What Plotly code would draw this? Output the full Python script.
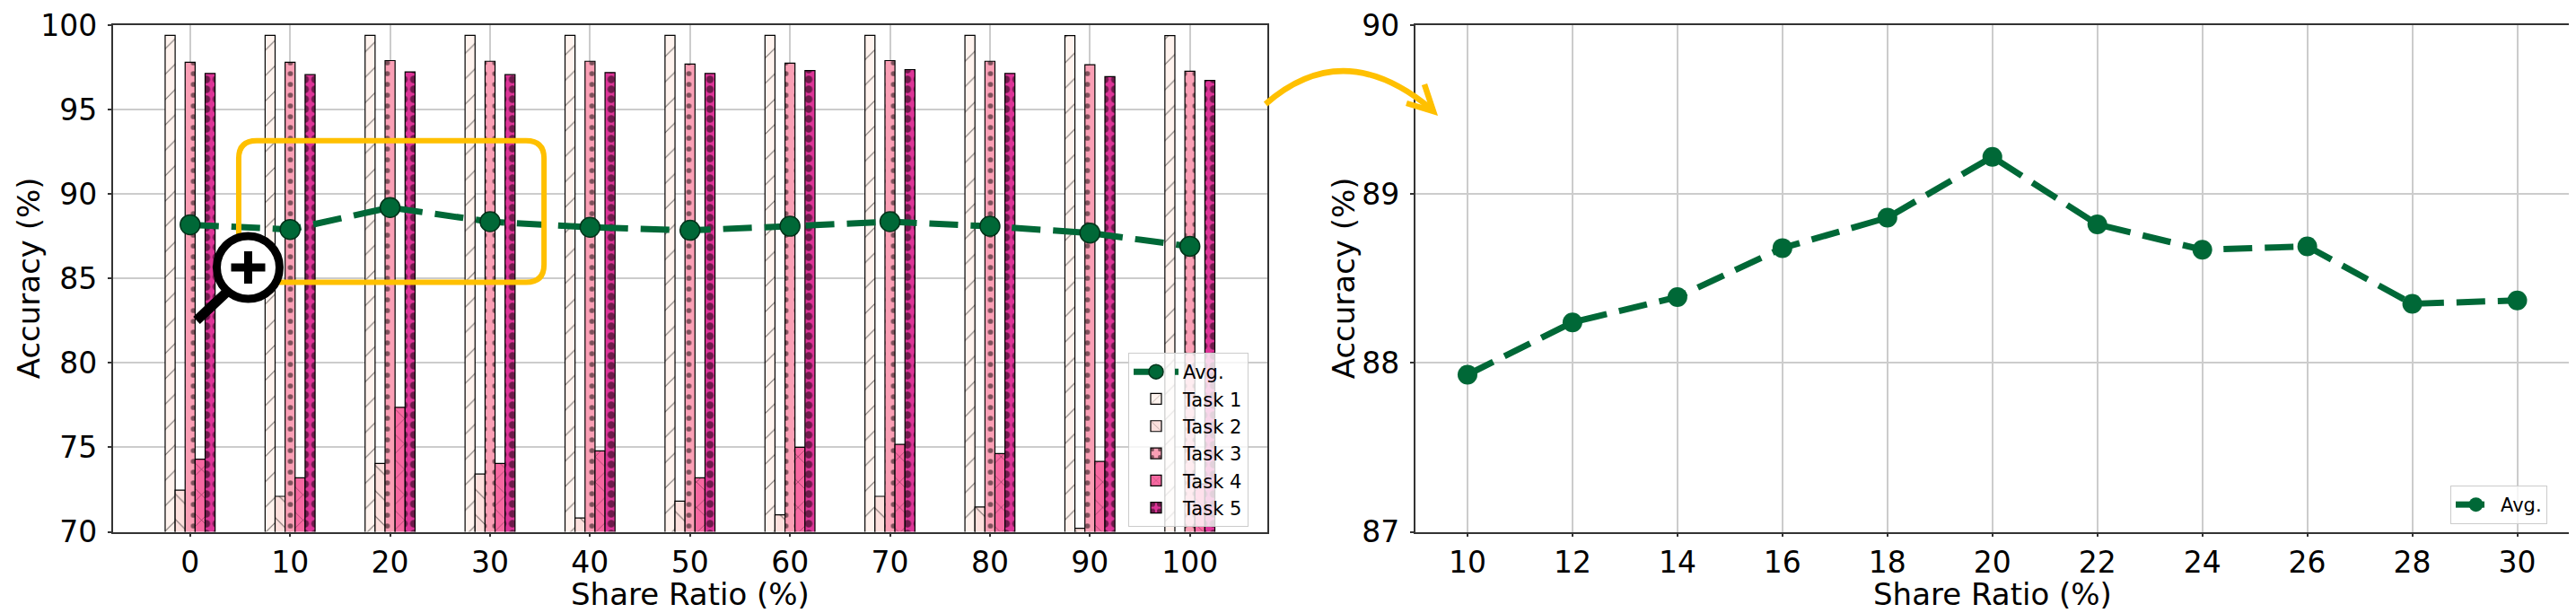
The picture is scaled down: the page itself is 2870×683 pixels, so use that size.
import plotly.graph_objects as go

# ---------------- data ----------------
share_ratio = [0, 10, 20, 30, 40, 50, 60, 70, 80, 90, 100]
task1 = [99.4, 99.4, 99.4, 99.4, 99.4, 99.4, 99.4, 99.4, 99.4, 99.38, 99.38]
task2 = [72.46, 72.1, 74.05, 73.42, 70.82, 71.81, 71.0, 72.1, 71.47, 70.21, 68.3]
task3 = [97.8, 97.8, 97.9, 97.86, 97.86, 97.7, 97.75, 97.9, 97.86, 97.66, 97.27]
task4 = [74.3, 73.2, 77.37, 74.05, 74.79, 73.2, 75.0, 75.18, 74.63, 74.17, 72.84]
task5 = [97.14, 97.07, 97.23, 97.07, 97.19, 97.14, 97.31, 97.37, 97.14, 96.95, 96.72]
avg_all = [88.18, 87.9, 89.2, 88.36, 88.03, 87.85, 88.09, 88.36, 88.09, 87.69, 86.9]

zoom_ratio = [10, 12, 14, 16, 18, 20, 22, 24, 26, 28, 30]
avg_zoom = [87.93, 88.24, 88.39, 88.68, 88.86, 89.22, 88.82, 88.67, 88.69, 88.35, 88.37]

task_names = ["Task 1", "Task 2", "Task 3", "Task 4", "Task 5"]
task_values = [task1, task2, task3, task4, task5]

x_title = "Share Ratio (%)"
y_title = "Accuracy (%)"

# ---------------- styles ----------------
VIEW_W, VIEW_H = 2870, 683
BODY = 8  # default page margin of the html body
W, H = VIEW_W - BODY, VIEW_H - BODY
FONT = "DejaVu Sans"
GREEN = "#006837"
YELLOW = "#FFC000"
task_colors = ["#fff3ee", "#fde0dd", "#fa9fb5", "#f768a1", "#dd3497"]
task_patterns = [
    dict(shape="/", size=20, solidity=0.06),
    dict(shape="\\", size=20, solidity=0.06),
    dict(shape=".", size=12, solidity=0.18),
    dict(shape="x", size=20, solidity=0.06),
    dict(shape=".", size=11, solidity=0.45),
]
bar_w = 1.0
TICK_SIZE = 33
TITLE_SIZE = 34


def px(x):
    # viewport pixel -> paper fraction
    return (x - BODY) / W


def py(y):
    return 1 - (y - BODY) / H


fig = go.Figure()

fig.add_trace(go.Scatter(
    x=share_ratio, y=avg_all, name="Avg.", mode="lines+markers",
    line=dict(color=GREEN, width=7, dash="32px,14px"),
    marker=dict(size=22, color=GREEN, line=dict(color="#00331a", width=1.5)),
    xaxis="x", yaxis="y", legend="legend",
))

for i, (name, vals) in enumerate(zip(task_names, task_values)):
    pat = dict(task_patterns[i])
    pat["fgcolor"] = "black"
    pat["bgcolor"] = task_colors[i]
    fig.add_trace(go.Bar(
        x=share_ratio, y=vals, name=name,
        width=bar_w, offset=(i - 2.5) * bar_w,
        marker=dict(color=task_colors[i], line=dict(color="black", width=1.2), pattern=pat),
        xaxis="x", yaxis="y", legend="legend",
    ))

fig.add_trace(go.Scatter(
    x=zoom_ratio, y=avg_zoom, name="Avg.", mode="lines+markers",
    line=dict(color=GREEN, width=7, dash="32px,14px"),
    marker=dict(size=22, color=GREEN),
    xaxis="x2", yaxis="y2", legend="legend2",
))

axis_common = dict(
    showline=True, mirror=True, linecolor="#333333", linewidth=1.5,
    ticks="outside", ticklen=4, tickwidth=1.5, tickcolor="#333333",
    showgrid=True, gridcolor="#cccccc", gridwidth=1.5, zeroline=False,
    tickfont=dict(family=FONT, size=TICK_SIZE, color="black"),
    automargin=False,
)
x_extra = dict(ticklabelstandoff=0)
y_extra = dict(ticklabelstandoff=5)

left_dom = [px(125.5), px(1412)]
right_dom = [px(1576.5), px(2863)]
ydom = [py(592.5), py(28)]

fig.update_layout(
    width=W, height=H, autosize=False,
    margin=dict(l=0, r=0, t=0, b=0, pad=0),
    paper_bgcolor="white", plot_bgcolor="white",
    font=dict(family=FONT, color="black"),
    xaxis=dict(domain=left_dom, range=[-7.75, 107.75],
               tickmode="array", tickvals=share_ratio, ticktext=[str(v) for v in share_ratio],
               anchor="y", layer="above traces", **axis_common, **x_extra),
    yaxis=dict(domain=ydom, range=[70, 100], tickmode="array", tickvals=[70, 75, 80, 85, 90, 95, 100],
               anchor="x", layer="above traces", **axis_common, **y_extra),
    xaxis2=dict(domain=right_dom, range=[9, 31],
                tickmode="array", tickvals=zoom_ratio,
                anchor="y2", **axis_common, **x_extra),
    yaxis2=dict(domain=ydom, range=[87, 90], tickmode="array", tickvals=[87, 88, 89, 90],
                anchor="x2", **axis_common, **y_extra),
    showlegend=True,
    legend=dict(x=px(1257), y=py(393), xanchor="left", yanchor="top",
                bgcolor="rgba(255,255,255,0.8)", bordercolor="#cccccc", borderwidth=1,
                font=dict(family=FONT, size=21), itemwidth=50, traceorder="normal"),
    legend2=dict(x=px(2730), y=py(584), xanchor="left", yanchor="bottom",
                 bgcolor="rgba(255,255,255,0.8)", bordercolor="#cccccc", borderwidth=1,
                 font=dict(family=FONT, size=21), itemwidth=45),
)

# ---- axis titles as annotations (exact placement) ----
title_font = dict(family=FONT, size=TITLE_SIZE, color="black")
for dom in (left_dom, right_dom):
    fig.add_annotation(text=x_title, xref="paper", yref="paper",
                       x=(dom[0] + dom[1]) / 2, y=0, xanchor="center", yanchor="bottom",
                       showarrow=False, font=title_font, borderpad=0)
for xc in (32, 1497):
    fig.add_annotation(text=y_title, xref="paper", yref="paper", textangle=-90,
                       x=px(xc), y=(ydom[0] + ydom[1]) / 2, xanchor="center", yanchor="middle",
                       showarrow=False, font=title_font)

# ---- rounded highlight rectangle (data coords of left chart) ----
x0, x1, y0, y1 = 4.86, 35.4, 84.77, 93.16
rx, ry = 1.8, 1.05
rect_path = (f"M {x0+rx},{y1} L {x1-rx},{y1} Q {x1},{y1} {x1},{y1-ry} "
             f"L {x1},{y0+ry} Q {x1},{y0} {x1-rx},{y0} L {x0+rx},{y0} "
             f"Q {x0},{y0} {x0},{y0+ry} L {x0},{y1-ry} Q {x0},{y1} {x0+rx},{y1} Z")
fig.add_shape(type="path", path=rect_path, xref="x", yref="y",
              line=dict(color=YELLOW, width=6), layer="above")

# ---- magnifier icon (pixel positions -> paper) ----
cx, cy, r = 276.5, 298.0, 35
fig.add_shape(type="line", xref="paper", yref="paper",
              x0=px(219), y0=py(357), x1=px(252), y1=py(326),
              line=dict(color="black", width=11), layer="above")
fig.add_shape(type="circle", xref="paper", yref="paper",
              x0=px(cx - r), x1=px(cx + r), y0=py(cy + r), y1=py(cy - r),
              fillcolor="white", line=dict(color="black", width=9), layer="above")
fig.add_shape(type="line", xref="paper", yref="paper",
              x0=px(cx - 19), y0=py(cy), x1=px(cx + 19), y1=py(cy),
              line=dict(color="black", width=9), layer="above")
fig.add_shape(type="line", xref="paper", yref="paper",
              x0=px(cx), y0=py(cy - 18), x1=px(cx), y1=py(cy + 18),
              line=dict(color="black", width=9), layer="above")

# ---- curved arrow between the panels ----
ax0, ay0 = 1410, 116
ax2, ay2 = 1594, 121
cxa, cya = 1497, 40
fig.add_shape(type="path", xref="paper", yref="paper",
              path=f"M {px(ax0)},{py(ay0)} Q {px(cxa)},{py(cya)} {px(ax2)},{py(ay2)}",
              line=dict(color=YELLOW, width=6.5), layer="above")
fig.add_shape(type="path", xref="paper", yref="paper",
              path=f"M {px(1587)},{py(94)} L {px(1597)},{py(124)} L {px(1567)},{py(115)}",
              line=dict(color=YELLOW, width=6.5), layer="above")

fig.write_html("out.html")
